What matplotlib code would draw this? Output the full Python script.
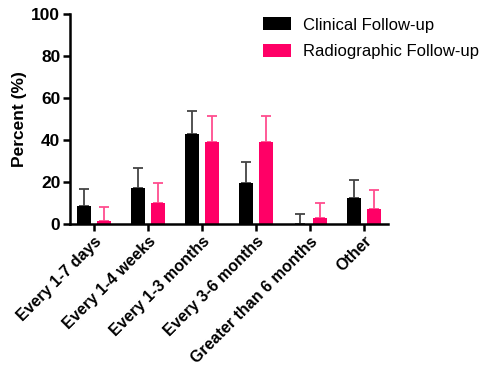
import numpy as np
import matplotlib.pyplot as plt

plt.rcParams['font.family'] = ['Liberation Sans', 'DejaVu Sans']

categories = ['Every 1-7 days', 'Every 1-4 weeks', 'Every 1-3 months',
              'Every 3-6 months', 'Greater than 6 months', 'Other']
clinical = [8.6, 17.1, 42.9, 19.7, 0.0, 12.2]
clinical_err = [8.1, 9.7, 10.9, 10.0, 4.6, 8.9]
radio = [1.4, 10.2, 39.2, 39.2, 2.7, 7.1]
radio_err = [6.5, 9.5, 12.1, 12.1, 7.4, 8.9]

black = '#000000'
pink = '#FF0066'

fig = plt.figure(figsize=(4.81, 3.70), dpi=100)
ax = fig.add_axes([70/481, 1-224/370, 318/481, 210/370])

x = np.arange(len(categories))
w = 0.26
off = 0.185
ax.bar(x - off, clinical, w, color=black, zorder=2, label='Clinical Follow-up')
ax.bar(x + off, radio, w, color=pink, zorder=2, label='Radiographic Follow-up')
ax.errorbar(x - off, clinical, yerr=[np.zeros(6), clinical_err], fmt='none',
            ecolor='#444444', elinewidth=1.3, capsize=3.5, capthick=1.3, zorder=1)
ax.errorbar(x + off, radio, yerr=[np.zeros(6), radio_err], fmt='none',
            ecolor='#FF4D8F', elinewidth=1.3, capsize=3.5, capthick=1.3, zorder=1)

ax.set_xlim(-0.444, 5.444)
ax.set_ylim(0, 100)
ax.set_yticks([0, 20, 40, 60, 80, 100])
ax.set_xticks(x)
ax.set_xticklabels(categories, rotation=45, ha='right', rotation_mode='anchor',
                   fontsize=11.5, fontweight='bold')
for t in ax.get_yticklabels():
    t.set_fontsize(12.5)
    t.set_fontweight('bold')
ax.set_ylabel('Percent (%)', fontsize=12.5, fontweight='bold', labelpad=3)

for s in ['top', 'right']:
    ax.spines[s].set_visible(False)
for s in ['left', 'bottom']:
    ax.spines[s].set_linewidth(1.8)
ax.tick_params(axis='both', width=1.8, length=5, direction='out', pad=2)

ax.legend(loc='upper left', bbox_to_anchor=(0.56, 1.055), frameon=False,
          fontsize=12, handlelength=1.7, handleheight=0.8, labelspacing=0.7,
          handletextpad=0.7)

fig.savefig('out.png', dpi=100)
